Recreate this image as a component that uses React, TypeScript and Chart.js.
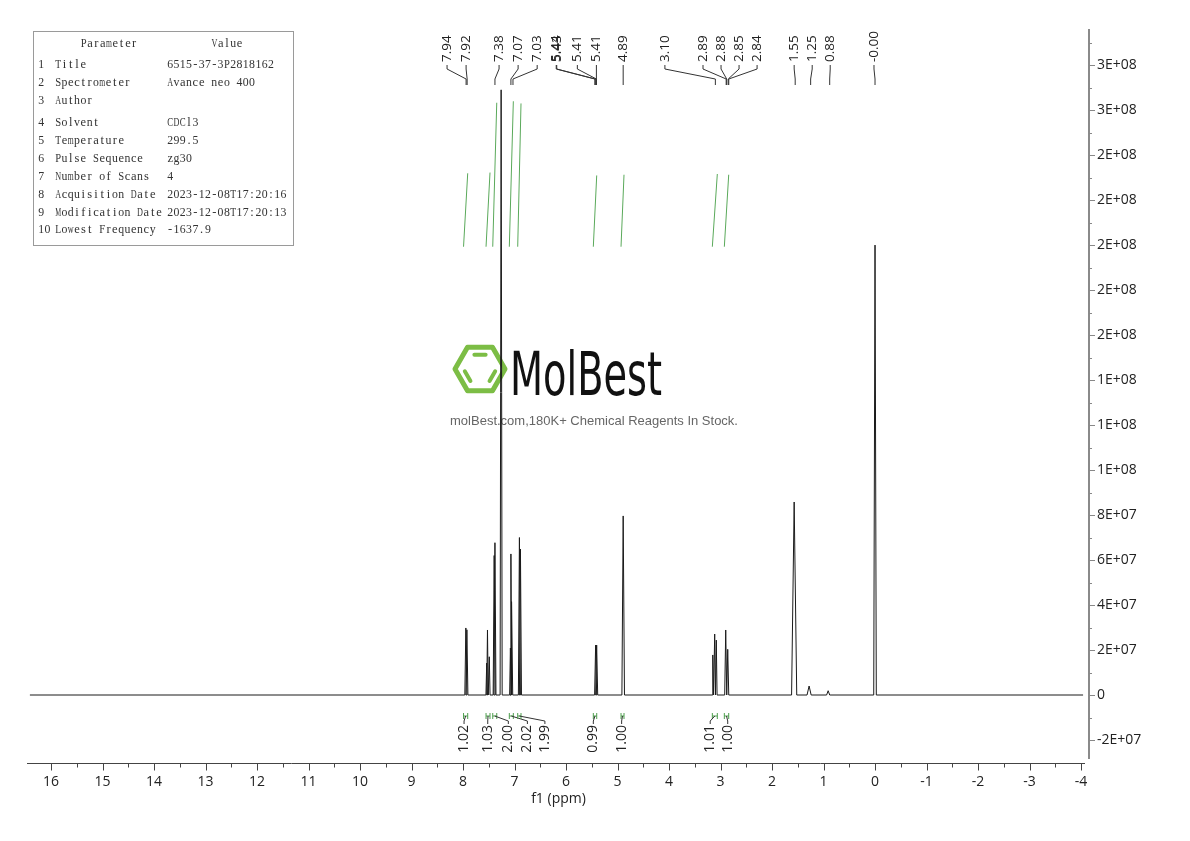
import React, { useEffect, useRef } from "react";
import { Chart, registerables } from "chart.js";

Chart.register(...registerables);

// ---------- data ----------
const xTickValues = [16, 15, 14, 13, 12, 11, 10, 9, 8, 7, 6, 5, 4, 3, 2, 1, 0, -1, -2, -3, -4];
const yTickValues = [-2e7, 0, 2e7, 4e7, 6e7, 8e7, 1e8, 1.2e8, 1.4e8, 1.6e8, 1.8e8, 2.0e8, 2.2e8, 2.4e8, 2.6e8, 2.8e8];
const yTickLabels = ["-2E+07", "0", "2E+07", "4E+07", "6E+07", "8E+07", "1E+08", "1E+08", "1E+08", "2E+08", "2E+08", "2E+08", "2E+08", "2E+08", "3E+08", "3E+08"];

const specStart = 16.41;
const specEnd = -4.04;
const peakPpm = [7.945, 7.925, 7.54, 7.525, 7.49, 7.395, 7.38, 7.26, 7.08, 7.07, 7.05, 6.905, 6.885, 5.425, 5.405, 4.89, 3.15, 3.113, 3.082, 2.899, 2.86, 1.57, 1.28, 0.91, 0.0];
const peakHeight = [2.98e7, 2.9e7, 1.42e7, 2.89e7, 1.7e7, 6.2e7, 6.77e7, 2.69e8, 2.09e7, 6.27e7, 4.15e7, 7.0e7, 6.49e7, 2.22e7, 2.22e7, 7.96e7, 1.78e7, 2.71e7, 2.44e7, 2.89e7, 2.03e7, 8.58e7, 4.0e6, 1.9e6, 2.0e8];
const peakWidth = [0.02, 0.02, 0.015, 0.015, 0.015, 0.02, 0.02, 0.02, 0.015, 0.015, 0.015, 0.02, 0.02, 0.02, 0.02, 0.025, 0.015, 0.015, 0.015, 0.02, 0.02, 0.05, 0.04, 0.03, 0.025];

const peakLabels = ["7.94", "7.92", "7.38", "7.07", "7.03", "5.44", "5.43", "5.41", "5.41", "4.89", "3.10", "2.89", "2.88", "2.85", "2.84", "1.55", "1.25", "0.88", "-0.00"];
const peakLabelPpm = [7.94, 7.92, 7.38, 7.07, 7.03, 5.44, 5.43, 5.41, 5.41, 4.89, 3.1, 2.89, 2.88, 2.85, 2.84, 1.55, 1.25, 0.88, 0.0];
const peakLabelAt = [8.31, 7.94, 7.3, 6.93, 6.56, 6.19, 6.18, 5.78, 5.41, 4.89, 4.08, 3.34, 2.99, 2.64, 2.29, 1.57, 1.22, 0.87, 0.02];

const intStart = [7.99, 7.553, 7.423, 7.101, 6.938, 5.47, 4.932, 3.159, 2.926];
const intEnd = [7.909, 7.476, 7.345, 7.023, 6.874, 5.404, 4.874, 3.062, 2.841];
const intValue = [1.02, 1.03, 2.0, 2.02, 1.99, 0.99, 1.0, 1.01, 1.0];
const intLabels = ["1.02", "1.03", "2.00", "2.02", "1.99", "0.99", "1.00", "1.01", "1.00"];
const intLabelAt = [7.98, 7.52, 7.12, 6.75, 6.41, 5.47, 4.92, 3.2, 2.86];

const paramNames = ["Title", "Spectrometer", "Author", "Solvent", "Temperature", "Pulse Sequence", "Number of Scans", "Acquisition Date", "Modification Date", "Lowest Frequency"];
const paramValues = ["6515-37-3P2818162", "Avance neo 400", "", "CDCl3", "299.5", "zg30", "4", "2023-12-08T17:20:16", "2023-12-08T17:20:13", "-1637.9"];

// ---------- layout ----------
const X_MIN = -4.155;
const X_MAX = 16.447;
const Y_MIN = -2.8e7;
const Y_MAX = 2.956e8;
const YI_MIN = -7.101;
const YI_MAX = 3.01;
const rowY = [65, 83, 101, 123, 141, 159, 177, 195, 213, 230];
const GREEN = "#4f9f4f";

function buildSpectrum() {
  const pts: { x: number; y: number }[] = [{ x: specStart, y: 0 }];
  peakPpm.forEach((p, i) => {
    pts.push({ x: p + peakWidth[i], y: 0 }, { x: p, y: peakHeight[i] }, { x: p - peakWidth[i], y: 0 });
  });
  pts.push({ x: specEnd, y: 0 });
  return pts;
}

function drawMono(ctx: CanvasRenderingContext2D, text: string, x: number, y: number, adv: number) {
  ctx.textAlign = "center";
  for (let i = 0; i < text.length; i++) {
    const ch = text[i];
    const w = ctx.measureText(ch).width;
    const cx = x + i * adv + adv / 2;
    const maxW = adv - 0.4;
    if (w > maxW) {
      ctx.save();
      ctx.translate(cx, y);
      ctx.scale(maxW / w, 1);
      ctx.fillText(ch, 0, 0);
      ctx.restore();
    } else {
      ctx.fillText(ch, cx, y);
    }
  }
}

const annotPlugin = {
  id: "annot",
  beforeDatasetsDraw(chart: any) {
    const ctx: CanvasRenderingContext2D = chart.ctx;
    ctx.save();
    // hexagon logo
    const cx = 480, cy = 369, R = 25;
    const v = (k: number, r: number) => [cx + r * Math.cos((k * Math.PI) / 3), cy + r * Math.sin((k * Math.PI) / 3)];
    ctx.strokeStyle = "#7cbd45";
    ctx.lineWidth = 5;
    ctx.lineJoin = "round";
    ctx.beginPath();
    for (let k = 0; k < 6; k++) {
      const [px, py] = v(k, R);
      if (k === 0) ctx.moveTo(px, py);
      else ctx.lineTo(px, py);
    }
    ctx.closePath();
    ctx.stroke();
    ctx.lineWidth = 4;
    ctx.lineCap = "round";
    const inner = (a: number, b: number) => {
      const [x1, y1] = v(a, R * 0.66);
      const [x2, y2] = v(b, R * 0.66);
      const s = 0.16;
      ctx.beginPath();
      ctx.moveTo(x1 + (x2 - x1) * s, y1 + (y2 - y1) * s);
      ctx.lineTo(x2 - (x2 - x1) * s, y2 - (y2 - y1) * s);
      ctx.stroke();
    };
    inner(4, 5);
    inner(2, 3);
    inner(0, 1);
    // MolBest wordmark
    ctx.fillStyle = "#111";
    ctx.font = '60px "DejaVu Sans"';
    ctx.textAlign = "left";
    ctx.textBaseline = "alphabetic";
    const w = ctx.measureText("MolBest").width;
    ctx.save();
    ctx.translate(510, 395);
    ctx.scale(152 / w, 1);
    ctx.fillText("MolBest", 0, 0);
    ctx.restore();
    ctx.font = '13px "Liberation Sans"';
    ctx.fillStyle = "#666";
    ctx.textAlign = "center";
    ctx.textBaseline = "middle";
    ctx.fillText("molBest.com,180K+ Chemical Reagents In Stock.", 594, 421);
    ctx.restore();
  },
  afterDatasetsDraw(chart: any) {
    const ctx: CanvasRenderingContext2D = chart.ctx;
    const xs = chart.scales.x;
    const ys = chart.scales.y;
    const area = chart.chartArea;
    ctx.save();

    // x axis line and ticks
    const axisY = Math.round(area.bottom + 5) + 0.5;
    ctx.strokeStyle = "#444";
    ctx.lineWidth = 1;
    ctx.beginPath();
    ctx.moveTo(area.left - 1, axisY);
    ctx.lineTo(area.right - 4, axisY);
    xTickValues.forEach((t, i) => {
      const px = Math.round(xs.getPixelForValue(t)) + 0.5;
      ctx.moveTo(px, axisY);
      ctx.lineTo(px, axisY + 7);
      if (i < xTickValues.length - 1) {
        const mx = Math.round(xs.getPixelForValue(t - 0.5)) + 0.5;
        ctx.moveTo(mx, axisY);
        ctx.lineTo(mx, axisY + 4);
      }
    });
    ctx.stroke();

    // y axis ticks
    ctx.strokeStyle = "#888";
    ctx.lineWidth = 1;
    ctx.beginPath();
    yTickValues.forEach((t) => {
      const py = Math.round(ys.getPixelForValue(t)) + 0.5;
      ctx.moveTo(area.right, py);
      ctx.lineTo(area.right + 6, py);
      const my = Math.round(ys.getPixelForValue(t + 1e7)) + 0.5;
      ctx.moveTo(area.right, my);
      ctx.lineTo(area.right + 3, my);
    });
    ctx.stroke();

    // peak labels at top
    const top = area.top;
    ctx.font = '13.5px "Open Sans"';
    ctx.fillStyle = "#222";
    ctx.strokeStyle = "#333";
    ctx.lineWidth = 1;
    peakLabels.forEach((lab, i) => {
      const lx = xs.getPixelForValue(peakLabelAt[i]);
      const px = xs.getPixelForValue(peakLabelPpm[i]);
      ctx.save();
      ctx.translate(lx, top + 32);
      ctx.rotate(-Math.PI / 2);
      ctx.textAlign = "left";
      ctx.textBaseline = "middle";
      ctx.fillText(lab, 0, 0);
      ctx.restore();
      ctx.beginPath();
      ctx.moveTo(lx, top + 35);
      ctx.lineTo(lx, top + 39);
      ctx.lineTo(px, top + 49);
      ctx.lineTo(px, top + 55);
      ctx.stroke();
    });

    // integral brackets and labels
    const base = ys.getPixelForValue(0);
    ctx.font = '14px "Open Sans"';
    intLabels.forEach((lab, i) => {
      const b1 = xs.getPixelForValue(intStart[i]);
      const b2 = xs.getPixelForValue(intEnd[i]);
      const bc = (b1 + b2) / 2;
      const lx = xs.getPixelForValue(intLabelAt[i]);
      ctx.strokeStyle = GREEN;
      ctx.beginPath();
      ctx.moveTo(b1, base + 18);
      ctx.lineTo(b1, base + 24);
      ctx.moveTo(b2, base + 18);
      ctx.lineTo(b2, base + 24);
      ctx.moveTo(b1, base + 21);
      ctx.lineTo(b2, base + 21);
      ctx.stroke();
      ctx.strokeStyle = "#333";
      ctx.beginPath();
      ctx.moveTo(bc, base + 21);
      ctx.lineTo(lx, base + 26);
      ctx.lineTo(lx, base + 29);
      ctx.stroke();
      ctx.save();
      ctx.translate(lx, base + 30);
      ctx.rotate(-Math.PI / 2);
      ctx.textAlign = "right";
      ctx.textBaseline = "middle";
      ctx.fillStyle = "#222";
      ctx.fillText(lab, 0, 0);
      ctx.restore();
    });

    // parameter table
    ctx.strokeStyle = "#9a9a9a";
    ctx.lineWidth = 1;
    ctx.strokeRect(33.5, 31.5, 260, 214);
    ctx.fillStyle = "#333";
    ctx.font = '12.5px "Liberation Serif"';
    ctx.textBaseline = "middle";
    const adv = 6.3;
    drawMono(ctx, "Parameter", 109 - (9 * adv) / 2, 44, adv);
    drawMono(ctx, "Value", 227 - (5 * adv) / 2, 44, adv);
    paramNames.forEach((n, i) => {
      drawMono(ctx, String(i + 1), 38, rowY[i], adv);
      drawMono(ctx, n, 55, rowY[i], adv);
      drawMono(ctx, paramValues[i], 167, rowY[i], adv);
    });

    ctx.restore();
  },
};

export default function App() {
  const ref = useRef<HTMLCanvasElement>(null);
  useEffect(() => {
    const canvas = ref.current;
    if (!canvas) return;
    const integralSets = intValue.map((val, i) => ({
      data: [
        { x: intStart[i], y: 0 },
        { x: intEnd[i], y: val },
      ],
      borderColor: "#5aa95a",
      borderWidth: 1,
      pointRadius: 0,
      tension: 0,
      yAxisID: "yi",
      xAxisID: "x",
    }));
    const chart = new Chart(canvas, {
      type: "line",
      data: {
        datasets: [
          {
            data: buildSpectrum(),
            borderColor: "#1a1a1a",
            borderWidth: 1,
            pointRadius: 0,
            tension: 0,
            yAxisID: "y",
            xAxisID: "x",
          },
          ...integralSets,
        ],
      },
      options: {
        animation: false,
        responsive: false,
        devicePixelRatio: 1,
        events: [],
        layout: { padding: { left: 28, top: 30, right: 0, bottom: 0 } },
        plugins: { legend: { display: false }, tooltip: { enabled: false } },
        scales: {
          x: {
            type: "linear",
            position: "bottom",
            reverse: true,
            min: X_MIN,
            max: X_MAX,
            grid: { display: false, drawTicks: false },
            border: { display: false },
            afterBuildTicks: (s: any) => {
              s.ticks = xTickValues.map((v) => ({ value: v }));
            },
            afterFit: (s: any) => {
              s.height = 83;
            },
            ticks: {
              autoSkip: false,
              maxRotation: 0,
              padding: 16,
              color: "#222",
              font: { family: "Open Sans", size: 14 },
              callback: (v: any) => String(v),
            },
            title: {
              display: true,
              text: "f1 (ppm)",
              color: "#222",
              font: { family: "Open Sans", size: 14 },
              padding: { top: 0, bottom: 34 },
            },
          },
          y: {
            type: "linear",
            position: "right",
            min: Y_MIN,
            max: Y_MAX,
            grid: { display: false, drawTicks: false },
            border: { display: true, color: "#8a8a8a", width: 2 },
            afterBuildTicks: (s: any) => {
              s.ticks = yTickValues.map((v) => ({ value: v }));
            },
            afterFit: (s: any) => {
              s.width = 101;
            },
            ticks: {
              autoSkip: false,
              padding: 8,
              color: "#222",
              font: { family: "Open Sans", size: 14 },
              callback: (_v: any, i: number) => yTickLabels[i] ?? "",
            },
          },
          yi: {
            type: "linear",
            display: false,
            min: YI_MIN,
            max: YI_MAX,
          },
        },
      } as any,
      plugins: [annotPlugin],
    });
    return () => chart.destroy();
  }, []);
  return (
    <div style={{ position: "absolute", left: 0, top: 0, width: 1190, height: 841, background: "#fff" }}>
      <canvas ref={ref} width={1190} height={841} style={{ display: "block", width: 1190, height: 841 }} />
    </div>
  );
}
